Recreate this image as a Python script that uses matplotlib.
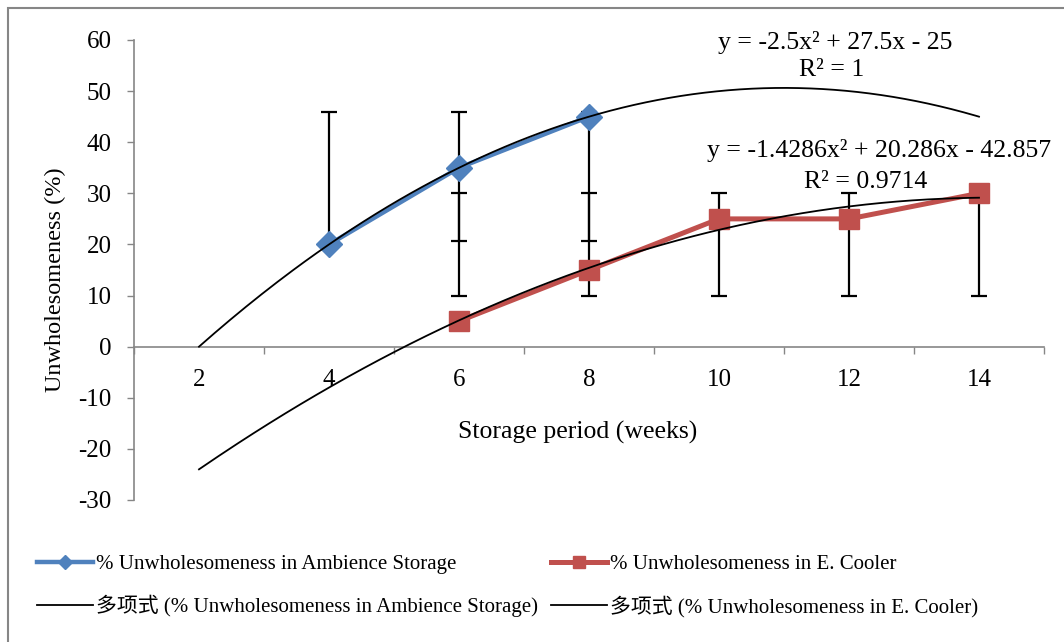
import numpy as np
import matplotlib.pyplot as plt
from matplotlib.lines import Line2D
from matplotlib.patches import Rectangle

# Data (category axis: 2..14 weeks)
weeks = [2, 4, 6, 8, 10, 12, 14]
amb_weeks = [4, 6, 8]
amb_vals = [20, 35, 45]
amb_err_lo = [20.7, 20.7, 20.7]
amb_err_hi = [46, 46, 46]
cool_weeks = [6, 8, 10, 12, 14]
cool_vals = [5, 15, 25, 25, 30]
cool_err_lo = [10, 10, 10, 10, 10]
cool_err_hi = [30, 30, 30, 30, 30]
amb_eq = ['y = -2.5x² + 27.5x - 25', 'R² = 1']
cool_eq = ['y = -1.4286x² + 20.286x - 42.857', 'R² = 0.9714']
yticks = list(range(-30, 61, 10))

SERIF = ['Liberation Serif', 'Noto Sans CJK SC', 'DejaVu Sans']
plt.rcParams['font.family'] = SERIF
plt.rcParams['axes.unicode_minus'] = False

BLUE = '#4F81BD'
RED = '#C0504D'
GRAY = '#868686'

W, H = 1064, 642
fig = plt.figure(figsize=(W / 100, H / 100), dpi=100)
ax = fig.add_axes([134 / W, 1 - 500 / H, (1044 - 134) / W, (500 - 40) / H])

# category index (Excel trendlines use 1..n)
idx = {w: i + 1 for i, w in enumerate(weeks)}
ax_x = np.array([idx[w] for w in amb_weeks])
co_x = np.array([idx[w] for w in cool_weeks])

# error bars (given as low/high bounds)
for xs, lo, hi in [(ax_x, amb_err_lo, amb_err_hi), (co_x, cool_err_lo, cool_err_hi)]:
    lo = np.array(lo); hi = np.array(hi)
    ax.errorbar(xs, (lo + hi) / 2, yerr=(hi - lo) / 2, fmt='none',
                ecolor='black', elinewidth=1.6, capsize=6, capthick=1.6, zorder=2)

ax.plot(ax_x, amb_vals, color=BLUE, lw=3.2, marker='D', ms=13, zorder=3)
ax.plot(co_x, cool_vals, color=RED, lw=3.6, marker='s', ms=14, zorder=3)

# polynomial trendlines across the whole category range
xx = np.linspace(1, len(weeks), 200)
p_amb = np.polyfit(ax_x, amb_vals, 2)
p_co = np.polyfit(co_x, cool_vals, 2)
ax.plot(xx, np.polyval(p_amb, xx), color='black', lw=1.3, zorder=4)
ax.plot(xx, np.polyval(p_co, xx), color='black', lw=1.3, zorder=4)

ax.set_xlim(0.5, len(weeks) + 0.5)
ax.set_ylim(-30, 60)
ax.set_yticks(yticks)
ax.tick_params(axis='y', direction='out', length=5, width=1, color=GRAY,
               labelsize=18, pad=11)

ax.set_xticks(np.arange(0.5, len(weeks) + 1, 1))
ax.set_xticklabels([])
ax.set_xticks(np.arange(1, len(weeks) + 1), minor=True)
ax.set_xticklabels([str(w) for w in weeks], minor=True)
ax.tick_params(axis='x', which='major', direction='out', length=5, width=1, color=GRAY)
ax.tick_params(axis='x', which='minor', length=0, labelsize=18, pad=16)

for s in ['top', 'right']:
    ax.spines[s].set_visible(False)
ax.spines['bottom'].set_position(('data', 0))
ax.spines['left'].set_color(GRAY)
ax.spines['bottom'].set_color(GRAY)
ax.spines['left'].set_linewidth(1.2)
ax.spines['bottom'].set_linewidth(1.2)
ax.patch.set_visible(False)

fig.text(578 / W, 1 - 432 / H, 'Storage period (weeks)', fontsize=18.5,
         ha='center', va='center')
fig.text(55 / W, 1 - 280 / H, 'Unwholesomeness (%)', fontsize=17.5,
         ha='center', va='center', rotation=90)

# trendline equations
fig.text(835 / W, 1 - 42 / H, amb_eq[0], fontsize=18.5, ha='center', va='center')
fig.text(832 / W, 1 - 70 / H, amb_eq[1], fontsize=18.5, ha='center', va='center')
fig.text(707 / W, 1 - 151 / H, cool_eq[0], fontsize=18.5, ha='left', va='center')
fig.text(866 / W, 1 - 182 / H, cool_eq[1], fontsize=18.5, ha='center', va='center')

handles = [
    Line2D([], [], color=BLUE, lw=3.2, marker='D', ms=7),
    Line2D([], [], color='black', lw=1.3),
    Line2D([], [], color=RED, lw=3.6, marker='s', ms=8),
    Line2D([], [], color='black', lw=1.3),
]
labels = [
    '% Unwholesomeness in Ambience Storage',
    '多项式 (% Unwholesomeness in Ambience Storage)',
    '% Unwholesomeness in E. Cooler',
    '多项式 (% Unwholesomeness in E. Cooler)',
]
fig.legend(handles, labels, ncol=2, loc='upper left',
           bbox_to_anchor=(18 / W, 1 - 536 / H), frameon=False,
           fontsize=15, handlelength=2.7, handletextpad=0.15,
           columnspacing=0.6, labelspacing=1.0)

fig.patches.append(Rectangle((8 / W, -0.1), 1.2, (H - 8) / H + 0.1,
                             transform=fig.transFigure, fill=False,
                             edgecolor=GRAY, lw=1.5))

fig.savefig('out.png', dpi=100)
